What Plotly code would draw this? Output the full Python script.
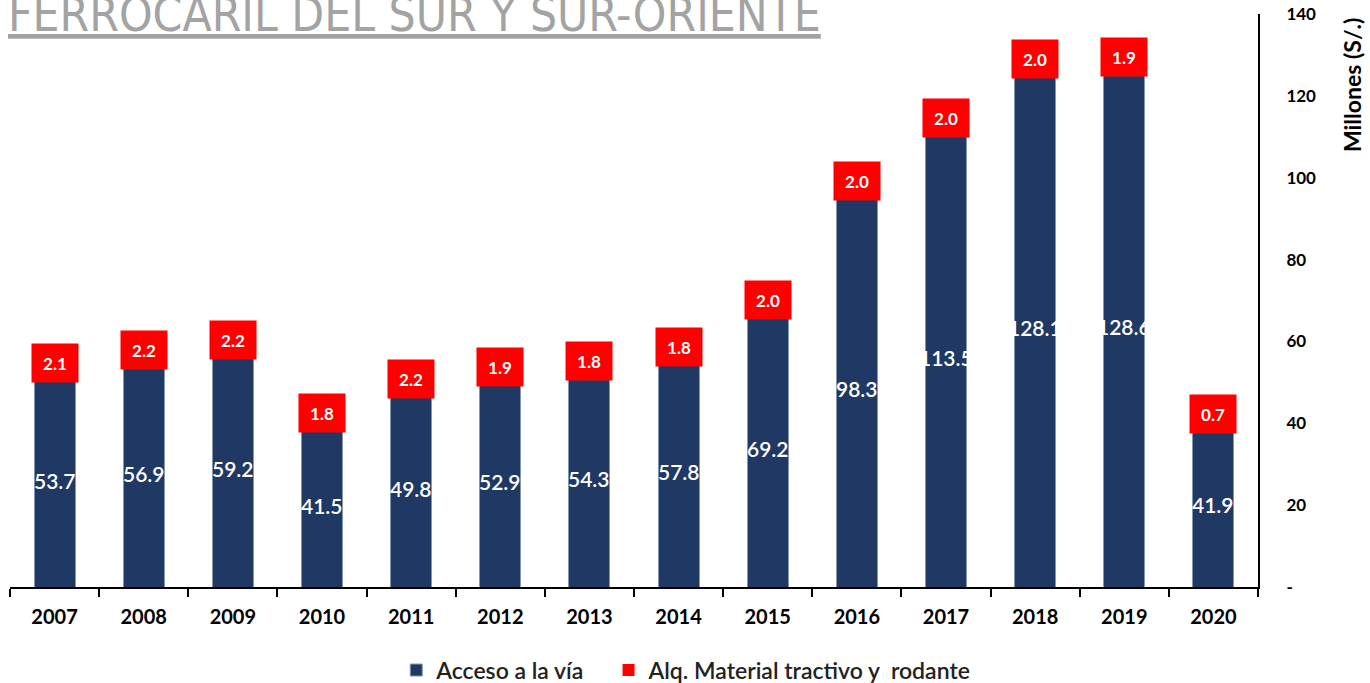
import plotly.graph_objects as go

years = ["2007", "2008", "2009", "2010", "2011", "2012", "2013", "2014",
         "2015", "2016", "2017", "2018", "2019", "2020"]
acceso = [53.7, 56.9, 59.2, 41.5, 49.8, 52.9, 54.3, 57.8, 69.2, 98.3, 113.5, 128.1, 128.6, 41.9]
alquiler = [2.1, 2.2, 2.2, 1.8, 2.2, 1.9, 1.8, 1.8, 2.0, 2.0, 2.0, 2.0, 1.9, 0.7]
y_ticks = [0, 20, 40, 60, 80, 100, 120, 140]
y_tick_text = ["-", "20", "40", "60", "80", "100", "120", "140"]

NAVY = "#203864"
RED = "#FF0000"
FONT = "Lato"

fig = go.Figure()
fig.add_trace(go.Bar(
    x=years, y=acceso, name="Acceso a la vía",
    marker=dict(color=NAVY, line=dict(color="#8497B0", width=1)),
    width=0.46, hoverinfo="y", legend="legend",
))
fig.add_trace(go.Bar(
    x=years, y=alquiler, name="Alq. Material tractivo y  rodante",
    marker=dict(color=RED, line=dict(width=0)),
    width=0.46, hoverinfo="y", legend="legend2",
))

annotations = []
for i, (a, r) in enumerate(zip(acceso, alquiler)):
    annotations.append(dict(
        x=i, y=a / 2, xref="x", yref="y", text=f"{a:.1f}", showarrow=False,
        yshift=-3,
        font=dict(family=FONT, size=21, color="white", weight=600),
    ))
    annotations.append(dict(
        x=i, y=a + r / 2, xref="x", yref="y", text=f"<b>{r:.1f}</b>", showarrow=False,
        font=dict(family=FONT, size=17, color="white"),
        bgcolor=RED, width=44, height=36, borderpad=1,
    ))

annotations.append(dict(
    x=0.0, y=1.0, xref="paper", yref="paper", xanchor="left", yanchor="bottom",
    yshift=-30, xshift=-4,
    text="<u>FERROCARIL DEL SUR Y SUR-ORIENTE</u>", showarrow=False,
    font=dict(family="DejaVu Sans Condensed, Lato", size=47.5, color="#A3A3A3"),
))
annotations.append(dict(
    x=1.0, y=0.876, xref="paper", yref="paper", xanchor="center", yanchor="middle",
    xshift=94, text="<b>Millones (S/.)</b>", showarrow=False, textangle=-90,
    font=dict(family=FONT, size=23, color="black"),
))

legend_font = dict(family=FONT, size=23, color="#222222", weight=600)

fig.update_layout(
    barmode="stack",
    width=1370, height=683,
    margin=dict(l=10, r=112, t=14, b=96, autoexpand=False),
    plot_bgcolor="white", paper_bgcolor="white",
    showlegend=True,
    legend=dict(orientation="h", x=0.3095, xanchor="left", y=-0.145, yanchor="middle",
                font=legend_font),
    legend2=dict(orientation="h", x=0.4796, xanchor="left", y=-0.145, yanchor="middle",
                 font=legend_font),
    annotations=annotations,
    xaxis=dict(
        type="category", range=[-0.5, 13.5], showline=True, linecolor="black", linewidth=2,
        ticks="outside", tickson="boundaries", ticklen=8, tickcolor="black", tickwidth=2,
        tickfont=dict(family=FONT, size=20, color="black", weight="bold"),
        ticklabelstandoff=11,
        showgrid=False, zeroline=False, automargin=False,
    ),
    yaxis=dict(
        side="right", range=[0, 140], tickvals=y_ticks, ticktext=y_tick_text,
        showline=True, linecolor="black", linewidth=2, ticks="", showgrid=False,
        zeroline=False, ticklabelstandoff=23, automargin=False,
        tickfont=dict(family=FONT, size=17, color="black", weight="bold"),
    ),
    font=dict(family=FONT),
)

fig.write_html("out.html", config={"displayModeBar": False},
               post_script="document.body.style.margin='0';document.body.style.overflow='hidden';")
